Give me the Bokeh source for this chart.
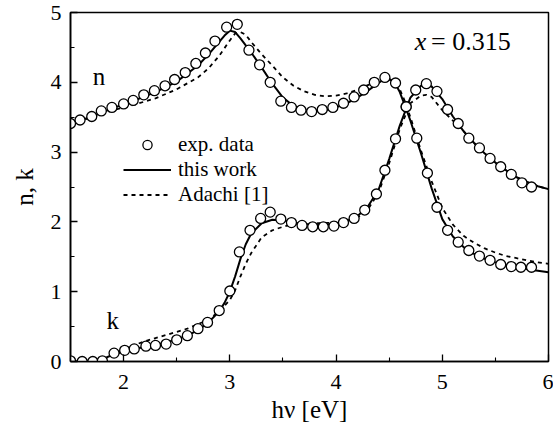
from bokeh.plotting import figure
from bokeh.models import Range1d, FixedTicker, Label, Legend, LegendItem
from bokeh.embed import file_html
from bokeh.resources import INLINE

# ---------------- data ----------------
n_exp_x = [1.50, 1.59, 1.70, 1.79, 1.89, 2.00, 2.09, 2.19, 2.29, 2.39, 2.48, 2.58,
           2.68, 2.77, 2.86, 2.97, 3.07, 3.18, 3.28, 3.38, 3.48, 3.58, 3.67, 3.77,
           3.87, 3.97, 4.07, 4.17, 4.26, 4.36, 4.46, 4.56, 4.66, 4.76, 4.86, 4.95,
           5.05, 5.15, 5.25, 5.35, 5.45, 5.55, 5.65, 5.74, 5.84]
n_exp_y = [3.41, 3.46, 3.51, 3.59, 3.64, 3.69, 3.74, 3.82, 3.88, 3.95, 4.04, 4.14,
           4.27, 4.42, 4.59, 4.79, 4.83, 4.46, 4.25, 4.00, 3.73, 3.64, 3.60, 3.58,
           3.61, 3.64, 3.70, 3.79, 3.89, 4.00, 4.07, 3.99, 3.65, 3.20, 2.70, 2.21,
           1.88, 1.71, 1.59, 1.51, 1.45, 1.39, 1.36, 1.35, 1.35]

k_exp_x = [1.50, 1.61, 1.71, 1.80, 1.91, 2.01, 2.10, 2.21, 2.30, 2.40, 2.50, 2.60,
           2.70, 2.79, 2.90, 3.00, 3.09, 3.19, 3.29, 3.38, 3.48, 3.58, 3.68, 3.78,
           3.88, 3.98, 4.07, 4.17, 4.27, 4.38, 4.46, 4.56, 4.66, 4.75, 4.85, 4.95,
           5.05, 5.15, 5.25, 5.35, 5.45, 5.55, 5.65, 5.75, 5.84]
k_exp_y = [0.01, 0.00, 0.00, 0.01, 0.12, 0.16, 0.18, 0.22, 0.23, 0.25, 0.31, 0.37,
           0.47, 0.56, 0.73, 1.01, 1.57, 1.88, 2.05, 2.14, 2.04, 1.99, 1.95, 1.93,
           1.93, 1.94, 1.99, 2.05, 2.17, 2.40, 2.74, 3.19, 3.65, 3.89, 3.98, 3.87,
           3.61, 3.41, 3.20, 3.06, 2.91, 2.79, 2.68, 2.56, 2.50]

# "this work" model curves
n_fit_x = [1.5, 1.7, 1.9, 2.1, 2.3, 2.5, 2.7, 2.8, 2.9, 2.95, 3.0, 3.05, 3.1, 3.2,
           3.3, 3.4, 3.5, 3.6, 3.7, 3.8, 3.9, 4.0, 4.1, 4.2, 4.3, 4.4, 4.45, 4.5,
           4.55, 4.6, 4.65, 4.7, 4.8, 4.9, 5.0, 5.1, 5.2, 5.3, 5.4, 5.5, 5.6, 5.7,
           5.8, 5.9, 6.0]
n_fit_y = [3.40, 3.51, 3.63, 3.74, 3.86, 4.01, 4.24, 4.40, 4.58, 4.67, 4.74, 4.72,
           4.63, 4.43, 4.21, 3.98, 3.78, 3.66, 3.60, 3.58, 3.60, 3.64, 3.70, 3.78,
           3.88, 3.99, 4.04, 4.05, 4.00, 3.86, 3.66, 3.45, 2.98, 2.48, 2.04, 1.79,
           1.64, 1.54, 1.47, 1.42, 1.38, 1.35, 1.32, 1.30, 1.28]

k_fit_x = [1.5, 1.7, 1.8, 1.9, 2.0, 2.2, 2.4, 2.6, 2.7, 2.8, 2.9, 2.95, 3.0, 3.05,
           3.1, 3.15, 3.2, 3.3, 3.4, 3.5, 3.6, 3.7, 3.8, 3.9, 4.0, 4.1, 4.2, 4.3,
           4.4, 4.5, 4.6, 4.7, 4.8, 4.85, 4.9, 5.0, 5.1, 5.2, 5.3, 5.4, 5.5, 5.6,
           5.7, 5.8, 5.9, 6.0]
k_fit_y = [0.00, 0.00, 0.03, 0.10, 0.14, 0.21, 0.27, 0.37, 0.45, 0.56, 0.72, 0.84,
           1.00, 1.22, 1.47, 1.68, 1.83, 1.98, 2.03, 2.02, 1.99, 1.97, 1.96, 1.96,
           1.97, 2.01, 2.08, 2.22, 2.46, 2.90, 3.38, 3.78, 3.95, 3.97, 3.94, 3.76,
           3.51, 3.30, 3.13, 2.98, 2.85, 2.74, 2.64, 2.57, 2.51, 2.47]

# Adachi [1] model curves
n_ad_x = [1.5, 1.7, 1.9, 2.1, 2.3, 2.5, 2.7, 2.8, 2.9, 3.0, 3.05, 3.1, 3.15, 3.2,
          3.3, 3.4, 3.5, 3.6, 3.7, 3.8, 3.9, 4.0, 4.1, 4.2, 4.3, 4.4, 4.5, 4.55,
          4.6, 4.65, 4.7, 4.8, 4.9, 5.0, 5.1, 5.2, 5.3, 5.4, 5.5, 5.6, 5.7, 5.8,
          5.9, 6.0]
n_ad_y = [3.40, 3.50, 3.60, 3.68, 3.77, 3.90, 4.07, 4.20, 4.38, 4.60, 4.70, 4.72,
          4.68, 4.58, 4.40, 4.24, 4.07, 3.95, 3.87, 3.82, 3.80, 3.81, 3.84, 3.89,
          3.96, 4.02, 4.04, 4.00, 3.90, 3.72, 3.50, 3.02, 2.58, 2.20, 1.96, 1.80,
          1.70, 1.62, 1.56, 1.51, 1.48, 1.45, 1.42, 1.40]

k_ad_x = [1.5, 1.7, 1.8, 1.9, 2.0, 2.2, 2.4, 2.6, 2.8, 2.9, 3.0, 3.05, 3.1, 3.15,
          3.2, 3.3, 3.4, 3.5, 3.6, 3.7, 3.8, 4.0, 4.2, 4.3, 4.4, 4.5, 4.6, 4.7,
          4.8, 4.85, 4.9, 5.0, 5.1, 5.2, 5.3, 5.4, 5.5, 5.6, 5.7, 5.8, 5.9, 6.0]
k_ad_y = [0.00, 0.00, 0.02, 0.10, 0.18, 0.29, 0.38, 0.47, 0.60, 0.72, 0.88, 1.02,
          1.22, 1.40, 1.55, 1.78, 1.88, 1.93, 1.97, 1.98, 1.98, 1.99, 2.06, 2.18,
          2.42, 2.84, 3.33, 3.70, 3.81, 3.82, 3.79, 3.60, 3.45, 3.30, 3.13, 2.98,
          2.85, 2.74, 2.64, 2.57, 2.51, 2.47]

x_ticks = [2, 3, 4, 5, 6]
x_minor = [1.5, 2.5, 3.5, 4.5, 5.5]
y_ticks = [0, 1, 2, 3, 4, 5]
y_minor = [0.5, 1.5, 2.5, 3.5, 4.5]

legend_labels = ["exp. data", "this work", "Adachi [1]"]
composition_label = "= 0.315"

# ---------------- figure ----------------
FONT = "Liberation Serif"

p = figure(width=553, height=428, output_backend="svg", toolbar_location=None,
           x_range=Range1d(1.5, 6), y_range=Range1d(0, 5),
           min_border_left=70, min_border_right=5, min_border_top=12,
           min_border_bottom=67)
p.grid.visible = False
p.background_fill_color = "white"
p.border_fill_color = "white"
p.outline_line_color = "black"
p.outline_line_width = 1.5

for ax in (p.xaxis[0], p.yaxis[0]):
    ax.axis_line_width = 1.6
    ax.axis_line_color = "black"
    ax.major_tick_in = 7
    ax.major_tick_out = 0
    ax.minor_tick_in = 4
    ax.minor_tick_out = 0
    ax.major_tick_line_width = 1.3
    ax.minor_tick_line_width = 1.1
    ax.major_label_text_font = FONT
    ax.major_label_text_font_size = "22px"
    ax.major_label_text_color = "black"
    ax.axis_label_text_font = FONT
    ax.axis_label_text_font_size = "25px"
    ax.axis_label_text_font_style = "normal"
    ax.axis_label_text_color = "black"

p.xaxis.ticker = FixedTicker(ticks=x_ticks, minor_ticks=x_minor)
p.yaxis.ticker = FixedTicker(ticks=y_ticks, minor_ticks=y_minor)
p.xaxis.major_label_standoff = 13
p.yaxis.major_label_standoff = 9
p.xaxis.axis_label = "hν [eV]"
p.yaxis.axis_label = "n, k"
p.xaxis.axis_label_standoff = 4
p.yaxis.axis_label_standoff = 10

# model curves
r_fit_n = p.line(n_fit_x, n_fit_y, line_color="black", line_width=2.0)
p.line(k_fit_x, k_fit_y, line_color="black", line_width=2.0)
r_ad_n = p.line(n_ad_x, n_ad_y, line_color="black", line_width=1.8, line_dash="4 4")
p.line(k_ad_x, k_ad_y, line_color="black", line_width=1.8, line_dash="4 4")

# experimental data
r_exp = p.scatter(n_exp_x, n_exp_y, marker="circle", size=10, fill_color="white",
                  line_color="black", line_width=1.3)
p.scatter(k_exp_x, k_exp_y, marker="circle", size=10, fill_color="white",
          line_color="black", line_width=1.3)

legend = Legend(items=[LegendItem(label=legend_labels[0], renderers=[r_exp]),
                       LegendItem(label=legend_labels[1], renderers=[r_fit_n]),
                       LegendItem(label=legend_labels[2], renderers=[r_ad_n])],
                location=(53, 154), glyph_width=48, glyph_height=23,
                label_height=23, label_standoff=7, spacing=0, padding=0,
                margin=0, background_fill_alpha=0, border_line_alpha=0,
                label_text_font=FONT, label_text_font_size="21px",
                label_text_color="black")
p.add_layout(legend, "center")

# annotations
p.add_layout(Label(x=1.71, y=3.89, text="n", text_font=FONT,
                   text_font_size="25px", text_color="black"))
p.add_layout(Label(x=1.84, y=0.40, text="k", text_font=FONT,
                   text_font_size="25px", text_color="black"))
p.add_layout(Label(x=4.74, y=4.37, text="x", text_font=FONT,
                   text_font_style="italic", text_font_size="26px",
                   text_color="black"))
p.add_layout(Label(x=4.895, y=4.37, text=composition_label, text_font=FONT,
                   text_font_size="26px", text_color="black"))

open("out.html", "w").write(file_html(p, INLINE))
